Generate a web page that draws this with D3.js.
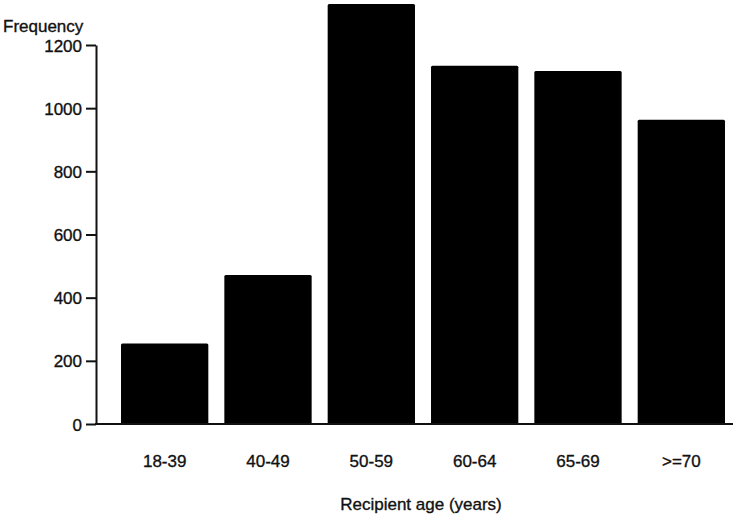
<!DOCTYPE html>
<html><head><meta charset="utf-8">
<script src="https://cdn.jsdelivr.net/npm/d3@7"></script>
<style>body{margin:0;background:#fff}svg{display:block}text{font-family:"Liberation Sans",Arial,sans-serif;fill:#111;stroke:#111;stroke-width:0.35px}</style>
</head><body>
<script>
const categories = ["18-39","40-49","50-59","60-64","65-69",">=70"];
const values = [255, 472, 1330, 1134, 1118, 963];
const yTicks = [0, 200, 400, 600, 800, 1000, 1200];

const W = 737, H = 517;
const FS = 17;
const svg = d3.select("body").append("svg").attr("width", W).attr("height", H);

const y = d3.scaleLinear().domain([0, 1200]).range([424, 45]);
const x = d3.scaleBand().domain(categories).range([113, 733]).paddingInner(0.155).paddingOuter(0.0775);

svg.selectAll("rect.bar").data(values).join("rect")
  .attr("class","bar")
  .attr("x", (d,i) => x(categories[i]))
  .attr("width", x.bandwidth())
  .attr("y", d => y(d))
  .attr("height", d => y(0) - y(d))
  .attr("rx", 1.5)
  .attr("fill", "#000");

// y axis
const yAxis = d3.axisLeft(y).tickValues(yTicks).tickFormat(d3.format("d"))
  .tickSize(10).tickSizeOuter(0).tickPadding(4);
const gy = svg.append("g").attr("transform","translate(96,0)").call(yAxis);
gy.select(".domain").attr("stroke","#111").attr("stroke-width",2);
gy.selectAll(".tick line").attr("stroke","#111").attr("stroke-width",2);
gy.selectAll(".tick text").attr("font-size",FS).attr("fill","#111").attr("dy","0.36em")
  .style("font-family","'Liberation Sans',Arial,sans-serif");

// x axis baseline and labels
const xAxis = d3.axisBottom(x).tickSize(0).tickSizeOuter(0).tickPadding(31);
const gx = svg.append("g").attr("transform","translate(0,424)").call(xAxis);
gx.select(".domain").remove();
gx.selectAll(".tick text").attr("font-size",FS).attr("fill","#111")
  .style("font-family","'Liberation Sans',Arial,sans-serif");
svg.append("line").attr("x1",95).attr("x2",733).attr("y1",424).attr("y2",424)
  .attr("stroke","#111").attr("stroke-width",2);

svg.append("text").attr("x",3).attr("y",32).attr("font-size",FS).text("Frequency");
svg.append("text").attr("x",421).attr("y",510).attr("text-anchor","middle").attr("font-size",FS).text("Recipient age (years)");
</script>
</body></html>
